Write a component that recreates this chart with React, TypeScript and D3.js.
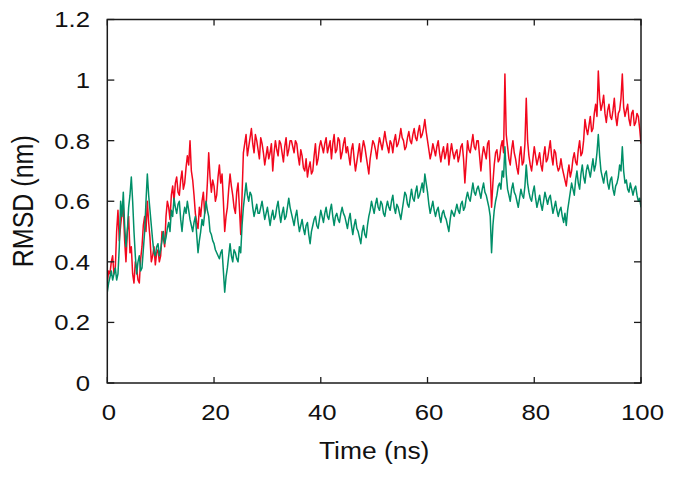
import React from "react";
import * as d3 from "d3";

const times: number[] = d3.range(0, 401).map((i) => i * 0.25);

const redValues: number[] = [
  0.33,0.37, 0.36,0.40, 0.42,0.36, 0.38,0.50, 0.57,0.47, 0.52,0.56, 0.58,0.47, 0.40,0.50, 0.55,0.43, 0.45,0.36,
  0.33,0.40, 0.38,0.34, 0.33,0.41, 0.45,0.52, 0.55,0.50, 0.60,0.53, 0.48,0.40, 0.42,0.45, 0.39,0.43, 0.44,0.40,
  0.42,0.50, 0.48,0.45, 0.55,0.60, 0.58,0.54, 0.62,0.65, 0.60,0.66, 0.68,0.63, 0.62,0.67, 0.70,0.64, 0.66,0.71,
  0.75,0.72, 0.80,0.70, 0.67,0.62, 0.56,0.53, 0.51,0.58, 0.55,0.60, 0.63,0.56, 0.58,0.66, 0.76,0.68, 0.63,0.67,
  0.65,0.60, 0.62,0.68, 0.72,0.66, 0.69,0.60, 0.50,0.55, 0.58,0.64, 0.69,0.65, 0.62,0.58, 0.56,0.63, 0.66,0.58,
  0.49,0.62, 0.76,0.79, 0.82,0.75, 0.78,0.81, 0.84,0.79, 0.76,0.82, 0.80,0.77, 0.74,0.81, 0.79,0.76, 0.72,0.75,
  0.78,0.74, 0.76,0.79, 0.70,0.76, 0.80,0.77, 0.75,0.80, 0.79,0.76, 0.73,0.78, 0.81,0.75, 0.77,0.80, 0.80,0.78,
  0.76,0.80, 0.79,0.75, 0.72,0.77, 0.75,0.71, 0.70,0.74, 0.68,0.71, 0.73,0.69, 0.70,0.75, 0.79,0.72, 0.74,0.78,
  0.80,0.78, 0.76,0.79, 0.81,0.76, 0.78,0.80, 0.74,0.79, 0.82,0.76, 0.77,0.81, 0.80,0.74, 0.76,0.79, 0.81,0.76,
  0.78,0.75, 0.72,0.77, 0.79,0.74, 0.70,0.73, 0.76,0.79, 0.73,0.77, 0.80,0.78, 0.75,0.72, 0.69,0.74, 0.77,0.80,
  0.79,0.77, 0.74,0.78, 0.81,0.79, 0.77,0.80, 0.83,0.80, 0.78,0.76, 0.80,0.79, 0.76,0.80, 0.82,0.78, 0.79,0.81,
  0.84,0.81, 0.80,0.77, 0.78,0.81, 0.83,0.80, 0.79,0.82, 0.84,0.81, 0.80,0.83, 0.85,0.81, 0.82,0.84, 0.87,0.83,
  0.80,0.77, 0.74,0.76, 0.79,0.77, 0.75,0.78, 0.80,0.76, 0.73,0.76, 0.78,0.74, 0.76,0.79, 0.72,0.76, 0.79,0.76,
  0.74,0.76, 0.77,0.73, 0.75,0.78, 0.79,0.74, 0.66,0.73, 0.80,0.77, 0.76,0.79, 0.82,0.78, 0.77,0.80, 0.80,0.75,
  0.70,0.75, 0.78,0.76, 0.74,0.79, 0.80,0.70, 0.58,0.66, 0.72,0.76, 0.77,0.73, 0.74,0.78, 0.80,0.76, 1.02,0.82,
  0.78,0.74, 0.72,0.77, 0.80,0.76, 0.74,0.71, 0.69,0.75, 0.78,0.72, 0.73,0.79, 0.94,0.80, 0.75,0.72, 0.70,0.74,
  0.78,0.75, 0.72,0.74, 0.76,0.72, 0.70,0.75, 0.78,0.73, 0.74,0.77, 0.80,0.75, 0.72,0.77, 0.76,0.72, 0.70,0.71,
  0.74,0.71, 0.69,0.67, 0.65,0.69, 0.72,0.68, 0.70,0.74, 0.76,0.73, 0.72,0.77, 0.80,0.75, 0.76,0.80, 0.87,0.84,
  0.82,0.85, 0.88,0.83, 0.84,0.89, 0.92,0.88, 1.03,0.94, 0.90,0.92, 0.95,0.89, 0.86,0.90, 0.92,0.88, 0.87,0.90,
  0.94,0.88, 0.85,0.89, 0.90,0.94, 1.02,0.91, 0.88,0.90, 0.92,0.87, 0.85,0.89, 0.90,0.85, 0.86,0.89, 0.88,0.84,
  0.79,
];

const greenValues: number[] = [
  0.30,0.33, 0.35,0.37, 0.34,0.36, 0.38,0.34, 0.36,0.45, 0.60,0.55, 0.63,0.52, 0.45,0.50, 0.58,0.62, 0.68,0.60,
  0.50,0.42, 0.36,0.40, 0.42,0.37, 0.38,0.44, 0.50,0.60, 0.69,0.62, 0.57,0.52, 0.47,0.43, 0.42,0.45, 0.46,0.42,
  0.44,0.47, 0.50,0.46, 0.48,0.51, 0.53,0.50, 0.57,0.55, 0.61,0.58, 0.56,0.59, 0.60,0.54, 0.50,0.55, 0.58,0.56,
  0.60,0.57, 0.54,0.52, 0.50,0.53, 0.55,0.49, 0.43,0.47, 0.50,0.54, 0.52,0.56, 0.60,0.57, 0.55,0.50, 0.49,0.47,
  0.46,0.44, 0.43,0.42, 0.41,0.43, 0.44,0.37, 0.30,0.35, 0.38,0.42, 0.46,0.42, 0.40,0.44, 0.43,0.41, 0.40,0.45,
  0.43,0.52, 0.58,0.62, 0.66,0.62, 0.60,0.63, 0.62,0.58, 0.55,0.57, 0.59,0.56, 0.56,0.58, 0.60,0.57, 0.54,0.56,
  0.58,0.55, 0.52,0.55, 0.57,0.54, 0.55,0.58, 0.60,0.56, 0.53,0.56, 0.58,0.54, 0.55,0.58, 0.61,0.58, 0.56,0.54,
  0.52,0.55, 0.57,0.53, 0.50,0.52, 0.54,0.51, 0.49,0.52, 0.53,0.49, 0.46,0.50, 0.52,0.54, 0.55,0.52, 0.51,0.54,
  0.57,0.55, 0.53,0.56, 0.58,0.55, 0.54,0.57, 0.59,0.55, 0.52,0.55, 0.56,0.54, 0.53,0.56, 0.58,0.56, 0.55,0.53,
  0.51,0.54, 0.56,0.52, 0.49,0.52, 0.54,0.51, 0.50,0.48, 0.46,0.50, 0.52,0.49, 0.48,0.52, 0.55,0.57, 0.60,0.58,
  0.56,0.59, 0.61,0.58, 0.57,0.60, 0.59,0.56, 0.55,0.58, 0.60,0.58, 0.57,0.60, 0.62,0.58, 0.56,0.59, 0.58,0.56,
  0.54,0.57, 0.60,0.63, 0.62,0.59, 0.58,0.61, 0.64,0.61, 0.60,0.63, 0.65,0.61, 0.62,0.64, 0.66,0.63, 0.69,0.66,
  0.63,0.59, 0.56,0.58, 0.60,0.57, 0.55,0.57, 0.58,0.55, 0.53,0.56, 0.57,0.55, 0.54,0.52, 0.50,0.54, 0.57,0.56,
  0.55,0.57, 0.59,0.57, 0.56,0.59, 0.60,0.57, 0.58,0.61, 0.63,0.61, 0.60,0.63, 0.66,0.63, 0.62,0.64, 0.65,0.63,
  0.61,0.64, 0.66,0.63, 0.62,0.60, 0.58,0.55, 0.43,0.52, 0.57,0.60, 0.62,0.65, 0.66,0.64, 0.70,0.68, 0.78,0.69,
  0.64,0.62, 0.60,0.64, 0.66,0.63, 0.62,0.60, 0.58,0.61, 0.64,0.62, 0.61,0.65, 0.72,0.66, 0.63,0.61, 0.60,0.63,
  0.65,0.61, 0.58,0.60, 0.62,0.59, 0.57,0.60, 0.63,0.61, 0.59,0.61, 0.62,0.59, 0.56,0.58, 0.60,0.57, 0.55,0.57,
  0.58,0.55, 0.53,0.56, 0.52,0.57, 0.60,0.63, 0.66,0.64, 0.62,0.67, 0.70,0.66, 0.64,0.69, 0.72,0.68, 0.66,0.70,
  0.72,0.70, 0.68,0.71, 0.74,0.70, 0.72,0.76, 0.82,0.75, 0.70,0.68, 0.66,0.69, 0.70,0.66, 0.64,0.67, 0.68,0.64,
  0.62,0.65, 0.66,0.68, 0.72,0.70, 0.78,0.70, 0.66,0.67, 0.64,0.63, 0.66,0.64, 0.62,0.64, 0.65,0.62, 0.60,0.61,
  0.58,
];

const xTicks: number[] = [0, 20, 40, 60, 80, 100];
const yTicks: number[] = [0, 0.2, 0.4, 0.6, 0.8, 1, 1.2];

const W = 677;
const H = 477;
const M = { left: 107.3, right: 641, top: 19.5, bottom: 383 };

export default function App() {
  const x = d3.scaleLinear().domain([0, 100]).range([M.left, M.right]);
  const y = d3.scaleLinear().domain([0, 1.2]).range([M.bottom, M.top]);
  const line = d3
    .line<number>()
    .x((_, i) => x(times[i]))
    .y((d) => y(d));

  const font = "'Liberation Sans', Arial, Helvetica, sans-serif";
  const axisColor = "#1a1a1a";
  const tickLen = 6;

  return (
    <svg
      width={W}
      height={H}
      style={{ position: "absolute", left: 0, top: 0, background: "#fff" }}
    >
      <defs>
        <clipPath id="clip">
          <rect x={M.left} y={M.top} width={M.right - M.left} height={M.bottom - M.top} />
        </clipPath>
      </defs>
      <g clipPath="url(#clip)">
        <path d={line(redValues) || ""} fill="none" stroke="#f2071d" strokeWidth={1.5} strokeLinejoin="round" />
        <path d={line(greenValues) || ""} fill="none" stroke="#008f68" strokeWidth={1.5} strokeLinejoin="round" />
      </g>

      {xTicks.map((t) => (
        <g key={"x" + t}>
          <line x1={x(t)} x2={x(t)} y1={M.bottom} y2={M.bottom - tickLen} stroke={axisColor} strokeWidth={1.3} />
          <line x1={x(t)} x2={x(t)} y1={M.top} y2={M.top + tickLen} stroke={axisColor} strokeWidth={1.3} />
          <text
            transform={`translate(${x(t) + 1.5},420) scale(1.17,1)`}
            textAnchor="middle"
            fontFamily={font}
            fontSize={22}
            fill="#111"
          >
            {t}
          </text>
        </g>
      ))}

      {yTicks.map((t) => (
        <g key={"y" + t}>
          <line x1={M.left} x2={M.left + tickLen + 1} y1={y(t)} y2={y(t)} stroke={axisColor} strokeWidth={1.3} />
          <line x1={M.right} x2={M.right - tickLen - 1} y1={y(t)} y2={y(t)} stroke={axisColor} strokeWidth={1.3} />
          <text
            transform={`translate(90,${y(t)}) scale(1.17,1)`}
            textAnchor="end"
            dy="0.36em"
            fontFamily={font}
            fontSize={22}
            fill="#111"
          >
            {t}
          </text>
        </g>
      ))}

      <rect
        x={M.left}
        y={M.top}
        width={M.right - M.left}
        height={M.bottom - M.top}
        fill="none"
        stroke={axisColor}
        strokeWidth={1.5}
      />

      <text
        transform={`translate(${(M.left + M.right) / 2},459) scale(1.1,1)`}
        textAnchor="middle"
        fontFamily={font}
        fontSize={24}
        fill="#111"
      >
        Time (ns)
      </text>
      <text
        transform={`translate(33,${(M.top + M.bottom) / 2}) scale(1.15,1) rotate(-90)`}
        textAnchor="middle"
        fontFamily={font}
        fontSize={25}
        fill="#111"
      >
        RMSD (nm)
      </text>
    </svg>
  );
}
